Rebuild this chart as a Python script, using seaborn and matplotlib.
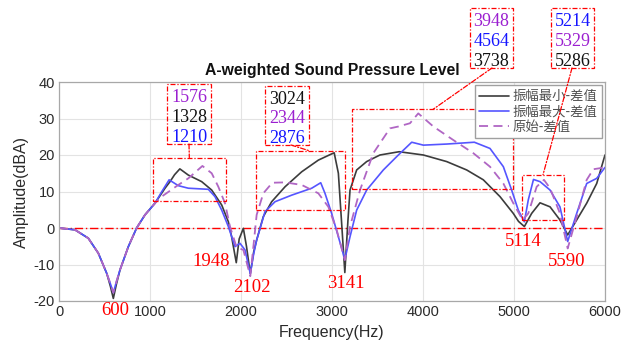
import numpy as np
import pandas as pd
import matplotlib
matplotlib.use("Agg")
import matplotlib.pyplot as plt
import seaborn as sns
from matplotlib.patches import Rectangle, ConnectionPatch

# ---------------- data ----------------
freq_min = [0, 176, 322, 432, 524, 565, 597, 630, 670, 762, 853, 945, 1055, 1165, 1220, 1270,
            1328, 1421, 1568, 1678, 1788, 1861, 1897, 1948, 1980, 2026, 2060, 2102, 2140, 2172,
            2245, 2337, 2484, 2667, 2850, 2996, 3024, 3070, 3106, 3141, 3175, 3198, 3271, 3381,
            3527, 3738, 4004, 4260, 4480, 4663, 4846, 4992, 5050, 5114, 5194, 5286, 5396, 5505,
            5590, 5689, 5799, 5909, 6000]
amp_min = [0, -0.5, -2.8, -6.9, -12.4, -16.0, -19.3, -15.5, -11.5, -5.1, 0.0, 3.6, 6.8, 10.9, 12.7, 14.6,
           16.2, 14.5, 12.7, 10.4, 6.3, 1.7, -2.4, -9.5, -3.0, -0.1, -5.0, -12.5, -6.5, -3.3,
           3.1, 7.2, 11.3, 15.4, 18.6, 20.3, 20.6, 15.0, 1.3, -12.2, 2.0, 10.4, 15.9, 18.2,
           20.0, 20.9, 20.0, 18.2, 15.9, 13.2, 8.6, 4.0, 1.8, 0.4, 4.0, 6.9, 5.8, 2.2,
           -1.9, 2.2, 6.8, 12.2, 20.0]

freq_max = [0, 176, 322, 432, 524, 565, 597, 630, 670, 762, 853, 945, 1055, 1128, 1210, 1311,
            1421, 1641, 1714, 1788, 1861, 1934, 1989, 2044, 2102, 2140, 2172, 2264, 2374, 2557,
            2777, 2876, 2923, 2996, 3070, 3141, 3198, 3271, 3381, 3564, 3729, 3876, 4004, 4260,
            4564, 4736, 4883, 4974, 5047, 5114, 5157, 5214, 5286, 5396, 5505, 5590, 5689, 5799,
            5909, 6000]
amp_max = [0, -0.5, -2.8, -6.9, -12.4, -15.3, -17.7, -14.8, -11.5, -5.1, 0.0, 3.6, 6.8, 9.9, 13.2, 11.6,
           10.9, 10.6, 8.6, 4.9, 0.4, -5.1, -4.2, -6.0, -12.5, -7.0, -3.3, 4.5, 7.2, 9.0,
           10.9, 12.4, 9.5, 4.0, -2.4, -8.6, -2.4, 4.9, 10.4, 15.9, 20.0, 23.5, 22.7, 23.0,
           23.5, 21.8, 16.8, 10.4, 4.9, 1.7, 7.7, 13.3, 12.7, 10.4, 5.8, -3.7, 4.0, 12.2,
           13.6, 16.6]

freq_orig = [0, 176, 322, 432, 524, 565, 597, 630, 670, 762, 853, 945, 1055, 1128, 1311, 1421,
             1576, 1678, 1751, 1824, 1879, 1952, 2026, 2102, 2136, 2172, 2245, 2344, 2484, 2667,
             2850, 2960, 3051, 3141, 3198, 3308, 3454, 3637, 3729, 3857, 3948, 4114, 4333, 4553,
             4736, 4883, 4992, 5095, 5157, 5249, 5329, 5396, 5505, 5590, 5689, 5799, 5872, 6000]
amp_orig = [0, -0.5, -2.8, -6.9, -12.4, -15.3, -17.7, -14.8, -11.5, -5.1, 0.0, 3.6, 6.8, 8.6, 11.8, 13.6,
            17.0, 15.0, 11.3, 6.8, 0.4, -5.3, -6.0, -13.2, -5.1, 3.6, 9.5, 12.4, 12.5, 11.8,
            9.5, 5.8, -0.5, -8.8, 0.4, 10.4, 20.5, 27.3, 27.8, 28.7, 31.4, 27.8, 24.1, 20.5,
            16.8, 12.2, 6.8, 2.2, 4.0, 11.3, 13.2, 10.9, 4.0, -5.6, 3.1, 13.2, 16.1, 16.6]

series_labels = ["振幅最小-差值", "振幅最大-差值", "原始-差值"]

min_freqs = [600, 1948, 2102, 3141, 5114, 5590]
min_label_pos = [(615, -22.5), (1670, -9.3), (2120, -16.2), (3154, -15.3), (5099, -3.6), (5582, -9.3)]

box_groups = [
    [("1576", "purple"), ("1328", "black"), ("1210", "blue")],
    [("3024", "black"), ("2344", "purple"), ("2876", "blue")],
    [("3948", "purple"), ("4564", "blue"), ("3738", "black")],
    [("5214", "blue"), ("5329", "purple"), ("5286", "black")],
]

# ---------------- style ----------------
sns.set_style("white")
plt.rcParams['font.family'] = ['Liberation Sans', 'DejaVu Sans']
plt.rcParams['axes.unicode_minus'] = False

W, H = 629, 347
fig = plt.figure(figsize=(W / 100, H / 100), dpi=100)
ax = fig.add_axes([59 / W, 46 / H, 546 / W, 219 / H])

c_black = "#3c3c3c"
c_blue = "#5555ff"
c_purple = "#b066c4"
txt_colors = {"purple": "#9b1fd0", "black": "#111111", "blue": "#1515ff"}

sns.lineplot(x=freq_min, y=amp_min, ax=ax, color=c_black, lw=1.2, label=series_labels[0], sort=False)
sns.lineplot(x=freq_max, y=amp_max, ax=ax, color=c_blue, lw=1.2, label=series_labels[1], sort=False)
sns.lineplot(x=freq_orig, y=amp_orig, ax=ax, color=c_purple, lw=1.3, label=series_labels[2],
             sort=False, dashes=False, linestyle=(0, (5, 3)))

ax.axhline(0, color="red", lw=1.0, linestyle=(0, (6, 2, 1, 2)), zorder=1)

ax.set_xlim(0, 6000)
ax.set_ylim(-20, 40)
ax.set_xticks(range(0, 6001, 1000))
ax.set_yticks(range(-20, 41, 10))
ax.grid(True, color="#e3e3e3", lw=0.8)
ax.set_axisbelow(True)
for s in ax.spines.values():
    s.set_color("#a8a8a8")
    s.set_linewidth(0.9)
ax.tick_params(direction="in", length=3, color="#a8a8a8", labelsize=10.5, labelcolor="#2a2a2a", pad=3)
ax.set_xlabel("Frequency(Hz)", fontsize=11.5, color="#2a2a2a", labelpad=4)
ax.set_ylabel("Amplitude(dBA)", fontsize=11.5, color="#2a2a2a", labelpad=3)
ax.set_title("A-weighted Sound Pressure Level", fontsize=11.3, fontweight="bold", color="#111111", pad=5)

leg = ax.legend(loc="upper right", prop={'family': ['Noto Sans CJK SC', 'DejaVu Sans'], 'size': 9.6},
                frameon=True, fancybox=False, edgecolor="#a0a0a0", framealpha=1,
                borderaxespad=0.25, handlelength=2.3, handletextpad=0.25, borderpad=0.3, labelspacing=0.1)
for t in leg.get_texts():
    t.set_color("#505050")

# red dash-dot rectangles inside axes (data coords)
dashdot = (0, (4, 1.5, 1, 1.5))
rects = [(1030, 7.5, 1835, 19.3), (2165, 4.9, 3146, 21.1), (3223, 10.6, 4992, 32.5), (5085, 2.2, 5549, 14.6)]
for x0, y0, x1, y1 in rects:
    ax.add_patch(Rectangle((x0, y0), x1 - x0, y1 - y0, fill=False, edgecolor="red",
                           lw=0.9, linestyle=dashdot, zorder=4))

# minimum labels
serif = ['Liberation Serif', 'DejaVu Serif']
for f, (lx, ly) in zip(min_freqs, min_label_pos):
    ax.text(lx, ly, str(f), color="red", fontsize=13.5, family=serif, ha="center", va="center",
            clip_on=False)

# annotation boxes in figure pixels
def fx(px):
    return px / W

def fy(py):
    return 1 - py / H

boxes_px = [(167, 84, 211, 144), (265, 86, 309, 145), (470, 8, 513, 68), (551, 8, 594, 68)]
for (bx0, by0, bx1, by1), grp in zip(boxes_px, box_groups):
    fig.patches.append(Rectangle((fx(bx0), fy(by1)), fx(bx1) - fx(bx0), fy(by0) - fy(by1),
                                 transform=fig.transFigure, fill=False, edgecolor="red",
                                 lw=0.9, linestyle=dashdot, zorder=5))
    cx = (bx0 + bx1) / 2
    h = (by1 - by0)
    for i, (txt, col) in enumerate(grp):
        cy = by0 + h * (i + 0.5) / 3 + 1.5
        fig.text(fx(cx), fy(cy), txt, color=txt_colors[col], fontsize=13.0, family=serif,
                 ha="center", va="center_baseline")

# connectors: box bottom (figure px) -> rectangle top (data)
connectors = [((189, 144), (1432, 19.3)), ((291, 145), (2758, 21.1)),
              ((492, 68), (4110, 32.5)), ((572, 68), (5319, 14.6))]
for (px, py), (dx, dy) in connectors:
    cp = ConnectionPatch(xyA=(fx(px), fy(py)), coordsA=fig.transFigure, xyB=(dx, dy), coordsB=ax.transData,
                         color="red", lw=0.9, linestyle=dashdot, zorder=5)
    fig.add_artist(cp)

fig.savefig("out.png", dpi=100)
